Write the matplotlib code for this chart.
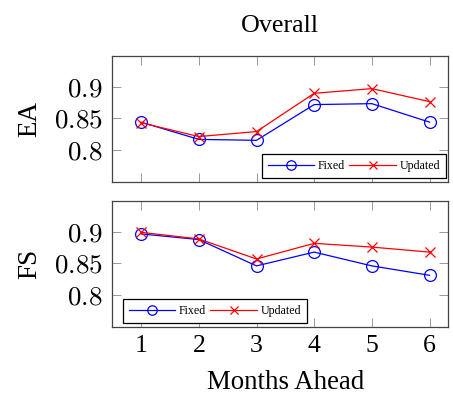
import matplotlib
matplotlib.use("Agg")
import matplotlib.pyplot as plt

plt.rcParams['font.family'] = ['Liberation Serif', 'DejaVu Serif']
plt.rcParams['mathtext.fontset'] = 'cm'

months = [1, 2, 3, 4, 5, 6]
ea_fixed = [0.844, 0.8165, 0.815, 0.872, 0.8735, 0.844]
ea_updated = [0.843, 0.821, 0.829, 0.890, 0.8975, 0.8767]
fs_fixed = [0.897, 0.888, 0.846, 0.868, 0.846, 0.831]
fs_updated = [0.8995, 0.889, 0.857, 0.882, 0.876, 0.868]
yticks = [0.8, 0.85, 0.9]
ytick_labels = ['$0.8$', '$0.85$', '$0.9$']
xtick_labels = ['1', '2', '3', '4', '5', '6']

W, H = 453, 395
fig = plt.figure(figsize=(W / 100, H / 100), dpi=100)

def frac_axes(l, t, r, b):
    return fig.add_axes([l / W, 1 - b / H, (r - l) / W, (b - t) / H])

ax1 = frac_axes(112.3, 55.7, 448, 181.7)
ax2 = frac_axes(112.3, 200.7, 448, 326.7)

blue = '#0000FF'
red = '#FF0000'

def style(ax, fixed, updated, ylabel, legend_loc, anchor):
    ax.plot(months, fixed, color=blue, lw=0.9, marker='o', ms=8.5,
            mfc='none', mec=blue, mew=0.9, label='Fixed')
    ax.plot(months, updated, color=red, lw=0.9, marker='x', ms=6.5,
            mec=red, mew=0.9, label='Updated')
    ax.set_xlim(0.5, 6.32)
    ax.set_ylim(0.749, 0.950)
    ax.set_yticks(yticks)
    ax.set_yticklabels(ytick_labels, fontsize=19.5)
    ax.set_xticks(months)
    for s in ax.spines.values():
        s.set_color('#444444')
        s.set_linewidth(0.9)
    ax.tick_params(direction='in', length=6.5, width=0.7, color='#999999',
                   top=True, right=True, pad=7)
    ax.set_ylabel(ylabel, fontsize=19.5, labelpad=8)
    leg = ax.legend(loc=legend_loc, bbox_to_anchor=anchor, ncol=2,
                    fontsize=8.6, handlelength=3.9, handletextpad=0.3,
                    columnspacing=0.35, borderpad=0.5, borderaxespad=0,
                    markerscale=0.8, fancybox=False, framealpha=1,
                    edgecolor='black')
    leg.get_frame().set_linewidth(0.9)
    return ax

style(ax1, ea_fixed, ea_updated, 'EA', 'lower right', (0.994, 0.032))
style(ax2, fs_fixed, fs_updated, 'FS', 'lower left', (0.031, 0.032))

ax1.set_xticklabels([])
ax2.set_xticklabels(xtick_labels, fontsize=18.5)
ax2.tick_params(axis='x', pad=6)

fig.text(280 / W, 1 - 32 / H, 'Overall', fontsize=18.7, ha='center',
         va='baseline')
fig.text(285.5 / W, 1 - 389 / H, 'Months Ahead', fontsize=19.4,
         ha='center', va='baseline')

fig.savefig('out.png', dpi=100)
